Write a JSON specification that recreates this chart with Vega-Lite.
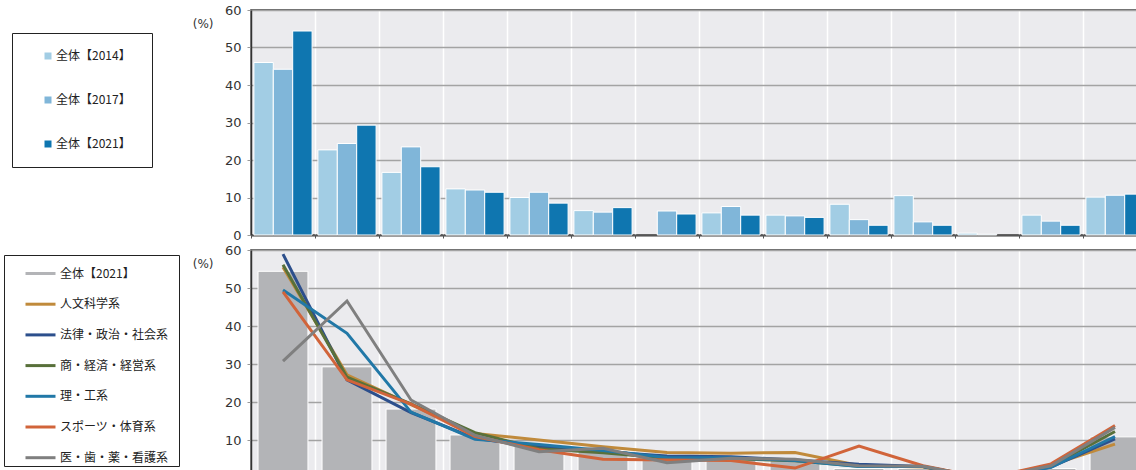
{
  "$schema": "https://vega.github.io/schema/vega-lite/v6.json",
  "background": "white",
  "padding": {"left": 2, "top": 3, "right": 0, "bottom": 0},
  "datasets": {
    "overall": [
      {"item": "項目01", "series": "全体【2014】", "pct": 46.0},
      {"item": "項目01", "series": "全体【2017】", "pct": 44.2},
      {"item": "項目01", "series": "全体【2021】", "pct": 54.4},
      {"item": "項目02", "series": "全体【2014】", "pct": 22.7},
      {"item": "項目02", "series": "全体【2017】", "pct": 24.4},
      {"item": "項目02", "series": "全体【2021】", "pct": 29.3},
      {"item": "項目03", "series": "全体【2014】", "pct": 16.7},
      {"item": "項目03", "series": "全体【2017】", "pct": 23.5},
      {"item": "項目03", "series": "全体【2021】", "pct": 18.2},
      {"item": "項目04", "series": "全体【2014】", "pct": 12.3},
      {"item": "項目04", "series": "全体【2017】", "pct": 12.0},
      {"item": "項目04", "series": "全体【2021】", "pct": 11.4},
      {"item": "項目05", "series": "全体【2014】", "pct": 10.0},
      {"item": "項目05", "series": "全体【2017】", "pct": 11.4},
      {"item": "項目05", "series": "全体【2021】", "pct": 8.5},
      {"item": "項目06", "series": "全体【2014】", "pct": 6.5},
      {"item": "項目06", "series": "全体【2017】", "pct": 6.1},
      {"item": "項目06", "series": "全体【2021】", "pct": 7.3},
      {"item": "項目07", "series": "全体【2017】", "pct": 6.4},
      {"item": "項目07", "series": "全体【2021】", "pct": 5.6},
      {"item": "項目08", "series": "全体【2014】", "pct": 5.9},
      {"item": "項目08", "series": "全体【2017】", "pct": 7.6},
      {"item": "項目08", "series": "全体【2021】", "pct": 5.3},
      {"item": "項目09", "series": "全体【2014】", "pct": 5.3},
      {"item": "項目09", "series": "全体【2017】", "pct": 5.1},
      {"item": "項目09", "series": "全体【2021】", "pct": 4.7},
      {"item": "項目10", "series": "全体【2014】", "pct": 8.2},
      {"item": "項目10", "series": "全体【2017】", "pct": 4.1},
      {"item": "項目10", "series": "全体【2021】", "pct": 2.6},
      {"item": "項目11", "series": "全体【2014】", "pct": 10.5},
      {"item": "項目11", "series": "全体【2017】", "pct": 3.5},
      {"item": "項目11", "series": "全体【2021】", "pct": 2.6},
      {"item": "項目12", "series": "全体【2014】", "pct": 0.5},
      {"item": "項目12", "series": "全体【2017】", "pct": 0.2},
      {"item": "項目13", "series": "全体【2014】", "pct": 5.3},
      {"item": "項目13", "series": "全体【2017】", "pct": 3.7},
      {"item": "項目13", "series": "全体【2021】", "pct": 2.6},
      {"item": "項目14", "series": "全体【2014】", "pct": 10.1},
      {"item": "項目14", "series": "全体【2017】", "pct": 10.6},
      {"item": "項目14", "series": "全体【2021】", "pct": 10.9}
    ],
    "byField": [
      {"item": "項目01", "series": "人文科学系", "pct": 55.5},
      {"item": "項目02", "series": "人文科学系", "pct": 27.2},
      {"item": "項目03", "series": "人文科学系", "pct": 19.4},
      {"item": "項目04", "series": "人文科学系", "pct": 11.8},
      {"item": "項目05", "series": "人文科学系", "pct": 10.1},
      {"item": "項目06", "series": "人文科学系", "pct": 8.3},
      {"item": "項目07", "series": "人文科学系", "pct": 6.8},
      {"item": "項目08", "series": "人文科学系", "pct": 6.6},
      {"item": "項目09", "series": "人文科学系", "pct": 6.8},
      {"item": "項目10", "series": "人文科学系", "pct": 3.4},
      {"item": "項目11", "series": "人文科学系", "pct": 3.0},
      {"item": "項目12", "series": "人文科学系", "pct": 0.0},
      {"item": "項目13", "series": "人文科学系", "pct": 3.5},
      {"item": "項目14", "series": "人文科学系", "pct": 9.0},
      {"item": "項目01", "series": "法律・政治・社会系", "pct": 58.9},
      {"item": "項目02", "series": "法律・政治・社会系", "pct": 25.9},
      {"item": "項目03", "series": "法律・政治・社会系", "pct": 17.3},
      {"item": "項目04", "series": "法律・政治・社会系", "pct": 10.5},
      {"item": "項目05", "series": "法律・政治・社会系", "pct": 8.3},
      {"item": "項目06", "series": "法律・政治・社会系", "pct": 7.0},
      {"item": "項目07", "series": "法律・政治・社会系", "pct": 5.9},
      {"item": "項目08", "series": "法律・政治・社会系", "pct": 5.7},
      {"item": "項目09", "series": "法律・政治・社会系", "pct": 4.8},
      {"item": "項目10", "series": "法律・政治・社会系", "pct": 3.7},
      {"item": "項目11", "series": "法律・政治・社会系", "pct": 3.1},
      {"item": "項目12", "series": "法律・政治・社会系", "pct": 0.0},
      {"item": "項目13", "series": "法律・政治・社会系", "pct": 3.0},
      {"item": "項目14", "series": "法律・政治・社会系", "pct": 10.4},
      {"item": "項目01", "series": "商・経済・経営系", "pct": 56.1},
      {"item": "項目02", "series": "商・経済・経営系", "pct": 26.6},
      {"item": "項目03", "series": "商・経済・経営系", "pct": 19.6},
      {"item": "項目04", "series": "商・経済・経営系", "pct": 12.0},
      {"item": "項目05", "series": "商・経済・経営系", "pct": 7.8},
      {"item": "項目06", "series": "商・経済・経営系", "pct": 6.7},
      {"item": "項目07", "series": "商・経済・経営系", "pct": 5.3},
      {"item": "項目08", "series": "商・経済・経営系", "pct": 5.2},
      {"item": "項目09", "series": "商・経済・経営系", "pct": 4.6},
      {"item": "項目10", "series": "商・経済・経営系", "pct": 3.2},
      {"item": "項目11", "series": "商・経済・経営系", "pct": 3.1},
      {"item": "項目12", "series": "商・経済・経営系", "pct": 0.0},
      {"item": "項目13", "series": "商・経済・経営系", "pct": 3.2},
      {"item": "項目14", "series": "商・経済・経営系", "pct": 12.3},
      {"item": "項目01", "series": "理・工系", "pct": 49.5},
      {"item": "項目02", "series": "理・工系", "pct": 38.1},
      {"item": "項目03", "series": "理・工系", "pct": 17.4},
      {"item": "項目04", "series": "理・工系", "pct": 10.3},
      {"item": "項目05", "series": "理・工系", "pct": 8.9},
      {"item": "項目06", "series": "理・工系", "pct": 7.3},
      {"item": "項目07", "series": "理・工系", "pct": 5.5},
      {"item": "項目08", "series": "理・工系", "pct": 5.4},
      {"item": "項目09", "series": "理・工系", "pct": 4.7},
      {"item": "項目10", "series": "理・工系", "pct": 3.1},
      {"item": "項目11", "series": "理・工系", "pct": 3.1},
      {"item": "項目12", "series": "理・工系", "pct": 0.0},
      {"item": "項目13", "series": "理・工系", "pct": 2.9},
      {"item": "項目14", "series": "理・工系", "pct": 11.0},
      {"item": "項目01", "series": "スポーツ・体育系", "pct": 49.0},
      {"item": "項目02", "series": "スポーツ・体育系", "pct": 25.9},
      {"item": "項目03", "series": "スポーツ・体育系", "pct": 19.5},
      {"item": "項目04", "series": "スポーツ・体育系", "pct": 11.0},
      {"item": "項目05", "series": "スポーツ・体育系", "pct": 7.5},
      {"item": "項目06", "series": "スポーツ・体育系", "pct": 5.0},
      {"item": "項目07", "series": "スポーツ・体育系", "pct": 4.8},
      {"item": "項目08", "series": "スポーツ・体育系", "pct": 4.7},
      {"item": "項目09", "series": "スポーツ・体育系", "pct": 2.7},
      {"item": "項目10", "series": "スポーツ・体育系", "pct": 8.5},
      {"item": "項目11", "series": "スポーツ・体育系", "pct": 3.3},
      {"item": "項目12", "series": "スポーツ・体育系", "pct": 0.0},
      {"item": "項目13", "series": "スポーツ・体育系", "pct": 3.8},
      {"item": "項目14", "series": "スポーツ・体育系", "pct": 13.9},
      {"item": "項目01", "series": "医・歯・薬・看護系", "pct": 30.8},
      {"item": "項目02", "series": "医・歯・薬・看護系", "pct": 46.6},
      {"item": "項目03", "series": "医・歯・薬・看護系", "pct": 20.6},
      {"item": "項目04", "series": "医・歯・薬・看護系", "pct": 11.3},
      {"item": "項目05", "series": "医・歯・薬・看護系", "pct": 7.0},
      {"item": "項目06", "series": "医・歯・薬・看護系", "pct": 7.9},
      {"item": "項目07", "series": "医・歯・薬・看護系", "pct": 4.1},
      {"item": "項目08", "series": "医・歯・薬・看護系", "pct": 5.3},
      {"item": "項目09", "series": "医・歯・薬・看護系", "pct": 5.0},
      {"item": "項目10", "series": "医・歯・薬・看護系", "pct": 3.3},
      {"item": "項目11", "series": "医・歯・薬・看護系", "pct": 3.2},
      {"item": "項目12", "series": "医・歯・薬・看護系", "pct": 0.0},
      {"item": "項目13", "series": "医・歯・薬・看護系", "pct": 3.3},
      {"item": "項目14", "series": "医・歯・薬・看護系", "pct": 13.4}
    ]
  },
  "config": {
    "view": {"fill": "#ebebee", "stroke": "#333333", "strokeWidth": 1.5},
    "axisY": {
      "labelFont": "DejaVu Sans",
      "labelFontSize": 13,
      "labelColor": "#333333",
      "labelPadding": 6,
      "tickColor": "#999999",
      "tickSize": 4,
      "domainColor": "#333333",
      "domainWidth": 1.5,
      "gridColor": "#a3a3a3",
      "gridWidth": 1.5,
      "titleFont": "DejaVu Sans",
      "titleFontSize": 12,
      "titleFontWeight": "normal",
      "titleColor": "#333333",
      "titleAngle": 0,
      "titleAlign": "right",
      "titleBaseline": "middle",
      "titleX": -38,
      "titleY": 13
    },
    "legend": {
      "labelFont": "Noto Sans CJK JP",
      "labelColor": "#222222",
      "strokeColor": "#222222"
    }
  },
  "bounds": "flush",
  "spacing": 15,
  "resolve": {
    "scale": {"x": "independent", "y": "independent", "color": "independent"},
    "legend": {"color": "independent"}
  },
  "vconcat": [
    {
      "width": 896,
      "height": 225,
      "data": {"name": "overall"},
      "mark": {"type": "bar", "stroke": "white", "strokeWidth": 1},
      "encoding": {
        "x": {
          "field": "item",
          "type": "nominal",
          "scale": {
            "domain": ["項目01", "項目02", "項目03", "項目04", "項目05", "項目06", "項目07", "項目08", "項目09", "項目10", "項目11", "項目12", "項目13", "項目14"],
            "paddingInner": 0,
            "paddingOuter": 0
          },
          "axis": {
            "title": null,
            "labels": false,
            "grid": true,
            "gridColor": "white",
            "gridWidth": 1.5,
            "tickBand": "extent",
            "ticks": true,
            "tickSize": 3,
            "tickColor": "#555555",
            "domainColor": "#555555",
            "domainWidth": 2
          }
        },
        "xOffset": {
          "field": "series",
          "type": "nominal",
          "scale": {"paddingInner": 0, "paddingOuter": 0.15}
        },
        "y": {
          "field": "pct",
          "type": "quantitative",
          "scale": {"domain": [0, 60], "nice": false},
          "axis": {"title": "(%)", "values": [0, 10, 20, 30, 40, 50, 60]}
        },
        "color": {
          "field": "series",
          "type": "nominal",
          "scale": {
            "domain": ["全体【2014】", "全体【2017】", "全体【2021】"],
            "range": ["#a2cde4", "#80b6d9", "#0f76b0"]
          },
          "legend": {
            "title": " ",
            "titleOrient": "right",
            "titlePadding": 4,
            "titleFontSize": 12,
            "orient": "none",
            "legendX": -239,
            "legendY": 23,
            "direction": "vertical",
            "symbolType": "square",
            "symbolSize": 49,
            "symbolStrokeWidth": 0,
            "labelFontSize": 12,
            "padding": 17,
            "symbolOffset": 13,
            "labelOffset": 2,
            "rowPadding": 32,
            "encode": {"legend": {"update": {"strokeWidth": {"value": 1.5}}}}
          }
        }
      }
    },
    {
      "width": 896,
      "height": 222,
      "layer": [
        {
          "data": {"name": "overall"},
          "transform": [{"filter": "datum.series === '全体【2021】'"}],
          "mark": {"type": "bar", "stroke": "white", "strokeWidth": 1, "width": {"band": 0.78}, "clip": true},
          "encoding": {
            "x": {
              "field": "item",
              "type": "nominal",
              "scale": {
                "domain": ["項目01", "項目02", "項目03", "項目04", "項目05", "項目06", "項目07", "項目08", "項目09", "項目10", "項目11", "項目12", "項目13", "項目14"],
                "paddingInner": 0,
                "paddingOuter": 0
              },
              "axis": {
                "title": null,
                "labels": false,
                "ticks": false,
                "domain": false,
                "grid": true,
                "gridColor": "white",
                "gridWidth": 1.5,
                "tickBand": "extent"
              }
            },
            "y": {
              "field": "pct",
              "type": "quantitative",
              "scale": {"domain": [1.67, 60], "nice": false, "zero": false},
              "axis": {"title": "(%)", "values": [10, 20, 30, 40, 50, 60]}
            },
            "color": {
              "field": "series",
              "type": "nominal",
              "scale": {
                "domain": ["全体【2021】", "人文科学系", "法律・政治・社会系", "商・経済・経営系", "理・工系", "スポーツ・体育系", "医・歯・薬・看護系"],
                "range": ["#b3b4b7", "#c08a3b", "#2c4f8c", "#58703a", "#2178a7", "#d1643a", "#7f7f7f"]
              },
              "legend": {
                "title": " ",
                "titleOrient": "right",
                "titlePadding": 9,
                "titleFontSize": 12,
                "orient": "none",
                "legendX": -247,
                "legendY": 5,
                "direction": "vertical",
                "symbolType": "stroke",
                "symbolSize": 900,
                "symbolStrokeWidth": 3,
                "labelFontSize": 12,
                "padding": 2,
                "symbolOffset": 18,
                "labelOffset": 3,
                "rowPadding": 7.7,
                "encode": {
                  "legend": {"update": {"strokeWidth": {"value": 1.5}}},
                  "symbols": {"update": {"strokeWidth": {"signal": "datum.label === '全体【2021】' ? 6 : 3"}}}
                }
              }
            }
          }
        },
        {
          "data": {"name": "byField"},
          "mark": {"type": "line", "strokeWidth": 3, "clip": true},
          "encoding": {
            "x": {"field": "item", "type": "nominal"},
            "y": {"field": "pct", "type": "quantitative"},
            "color": {"field": "series", "type": "nominal"}
          }
        }
      ]
    }
  ]
}
